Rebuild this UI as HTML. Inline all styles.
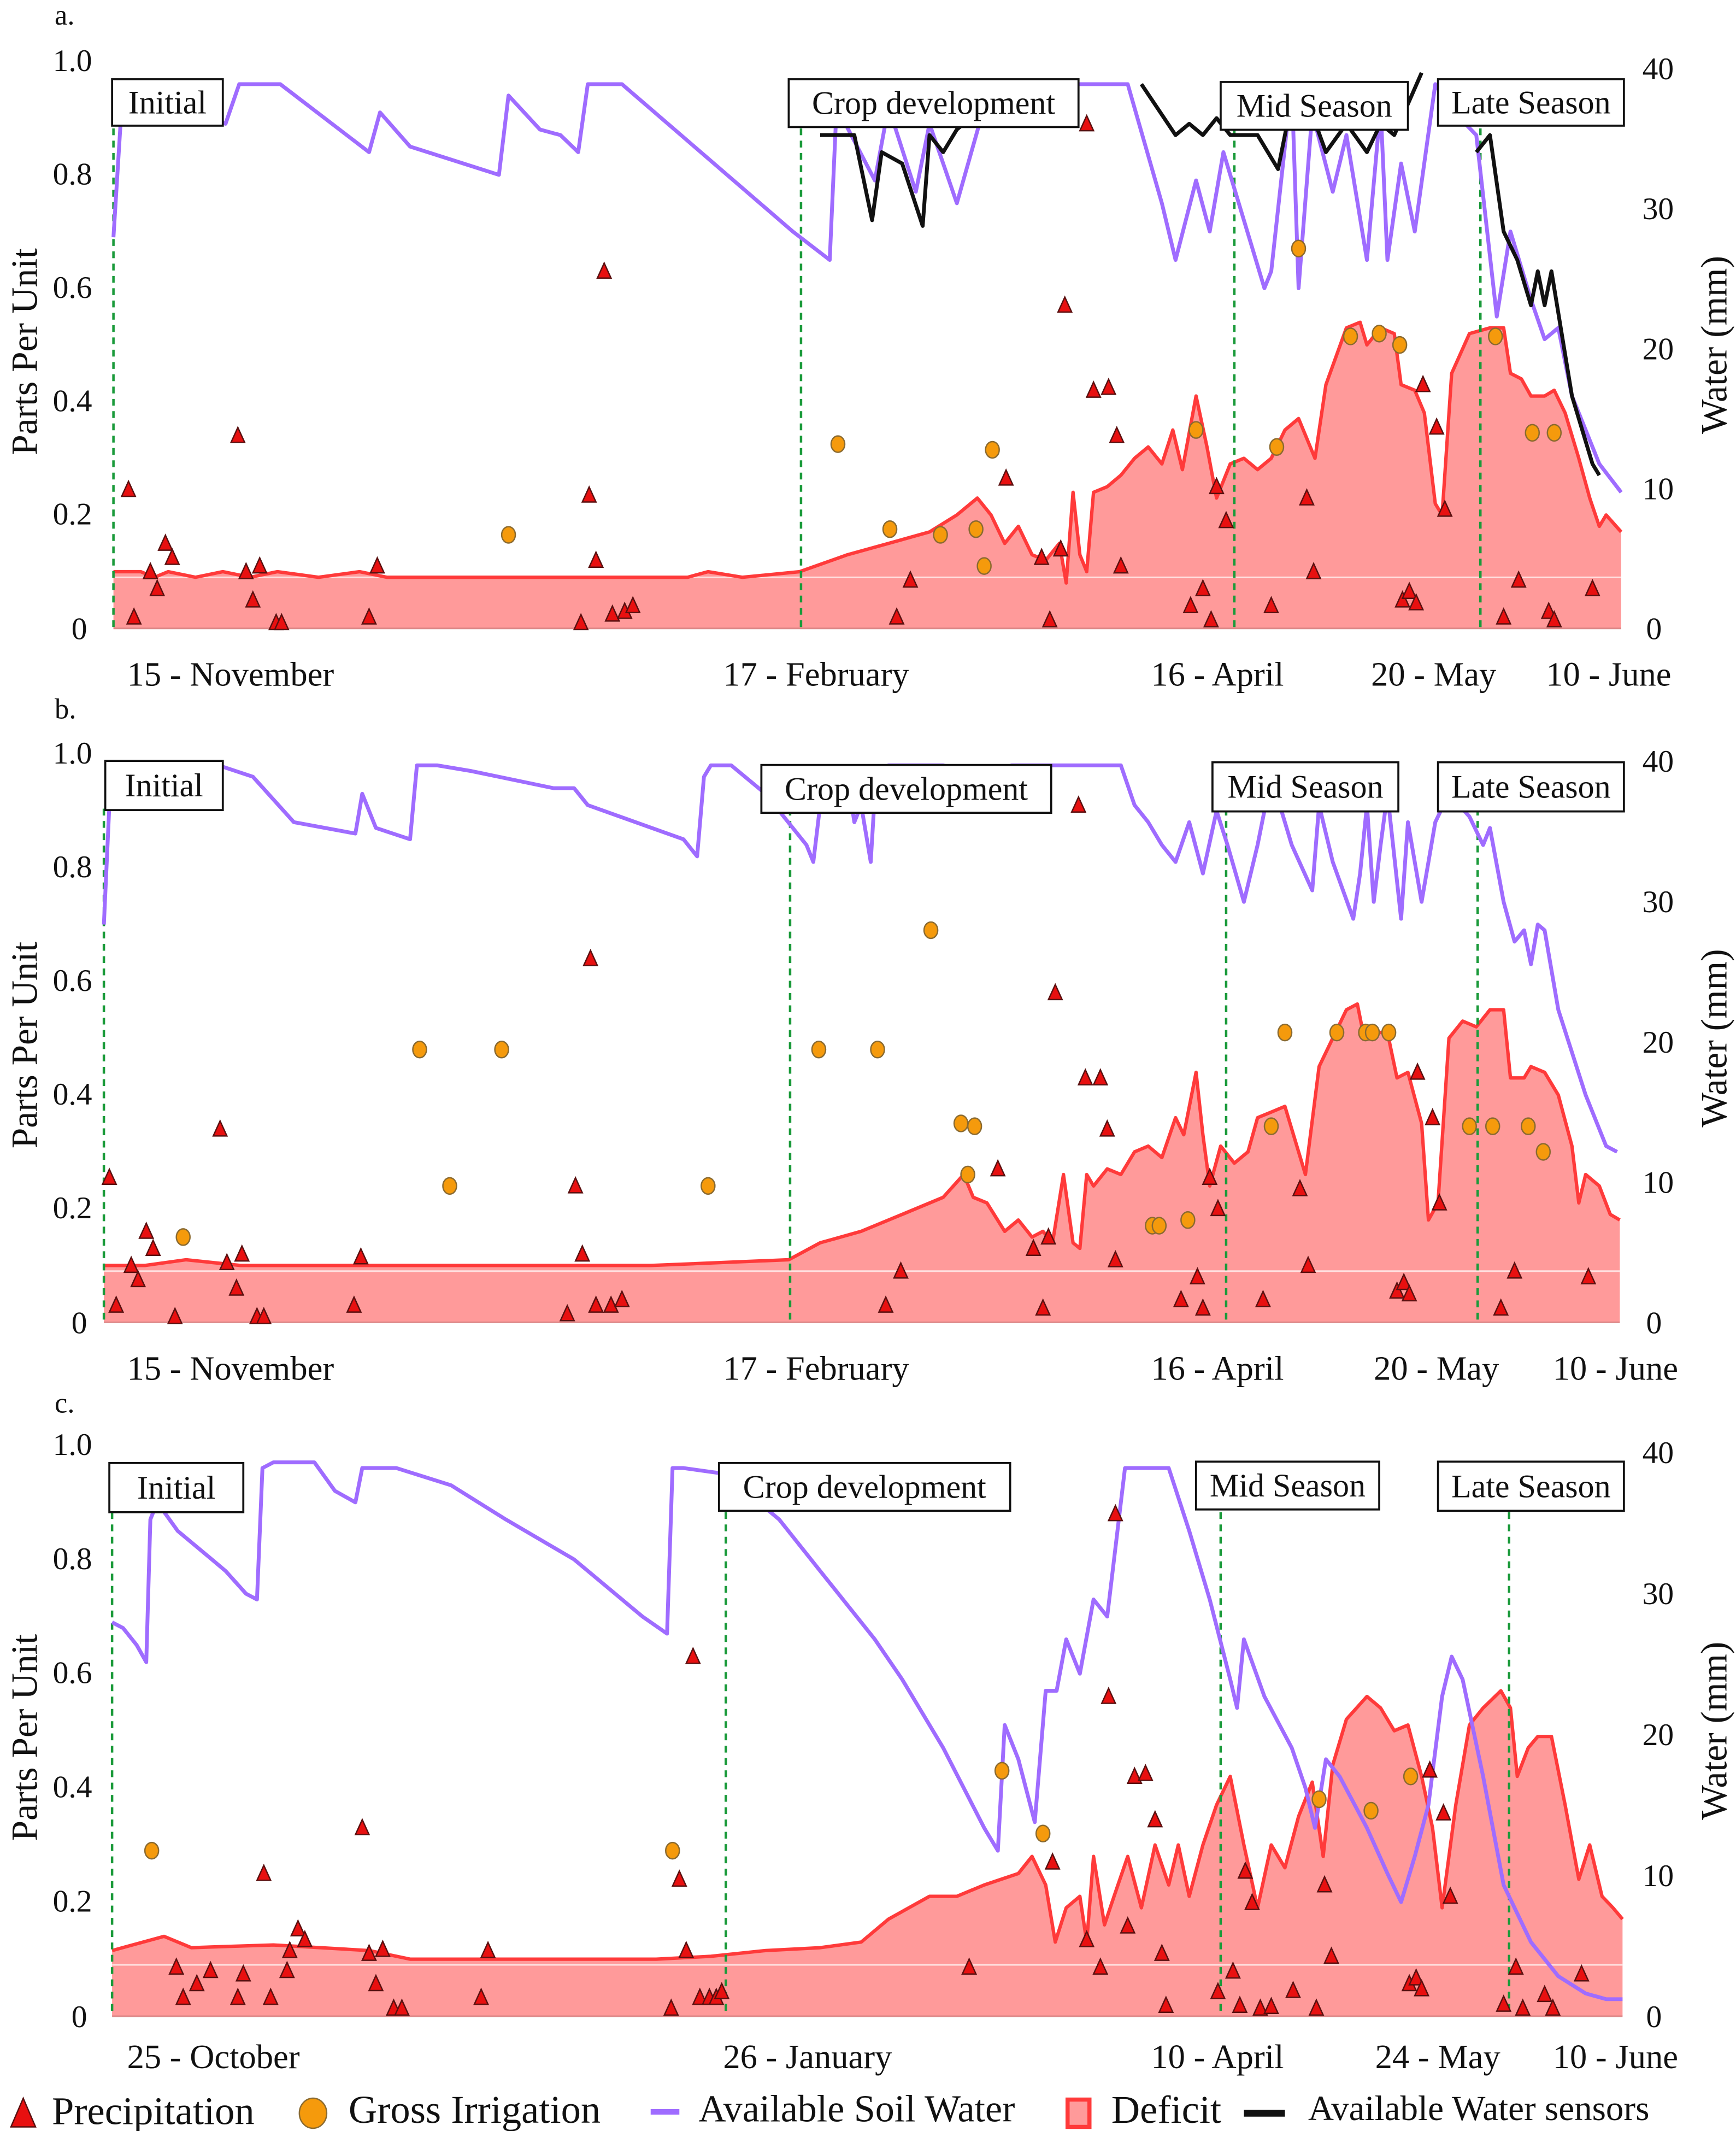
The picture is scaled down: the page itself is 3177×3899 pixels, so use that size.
<!DOCTYPE html>
<html><head><meta charset="utf-8">
<style>
html,body{margin:0;padding:0;background:#fff;}
svg{display:block;}
text{font-family:"Liberation Serif",serif;fill:#111;}
</style></head>
<body>
<svg id="chart" xmlns="http://www.w3.org/2000/svg" width="3177" height="3899" viewBox="0 0 1270 1560" preserveAspectRatio="none"></svg>
<script>
// ---------- Panel a data ----------
const aAswT=[0,7,82,92,122,187,195,217,282,289,312,327,340,347,372,497,524,529,557,567,587,597,617,637,652,742,767,777,792,802,812,842,847,862,867,877,892,902,917,927,932,942,952,967,977,997,1012,1022,1037,1047,1057,1067,1087,1103];
const aAswV=[.69,.96,.89,.96,.96,.84,.91,.85,.80,.94,.88,.87,.84,.96,.96,.70,.65,.92,.79,.92,.77,.89,.75,.92,.96,.96,.75,.65,.79,.70,.84,.60,.63,.96,.60,.91,.77,.87,.65,.92,.65,.82,.70,.96,.92,.87,.55,.70,.58,.51,.53,.41,.29,.24];
const aSenT=[517,542,555,562,577,592,597,607,617,627,637,640,752,777,787,797,807,817,837,852,862,872,887,902,917,927,937,957,960,997,1007,1017,1027,1037,1042,1047,1052,1067,1082,1087];
const aSenV=[.87,.87,.72,.84,.82,.71,.87,.84,.88,.90,.94,null,.96,.87,.89,.87,.90,.87,.87,.81,.93,.94,.84,.89,.84,.89,.87,.98,null,.84,.87,.70,.65,.57,.63,.57,.63,.41,.29,.27];
const aDefT=[0,20,30,40,60,80,100,120,150,180,200,260,280,350,420,435,460,502,537,567,597,617,632,642,652,662,672,682,692,697,702,707,712,717,727,737,747,757,767,775,782,792,800,807,817,827,837,847,857,867,879,887,902,912,917,927,937,942,952,959,967,972,979,992,1007,1017,1022,1030,1037,1047,1054,1062,1072,1080,1087,1092,1103];
const aDefV=[.10,.10,.09,.10,.09,.10,.09,.10,.09,.10,.09,.09,.09,.09,.09,.10,.09,.10,.13,.15,.17,.20,.23,.20,.15,.18,.13,.12,.15,.08,.24,.13,.10,.24,.25,.27,.30,.32,.29,.35,.28,.41,.32,.23,.29,.30,.28,.30,.35,.37,.30,.43,.53,.54,.50,.53,.52,.43,.42,.38,.22,.20,.45,.52,.53,.53,.45,.44,.41,.41,.42,.38,.30,.23,.18,.20,.17];
const aPrT=[11,15,27,32,38,43,91,97,102,107,119,123,187,193,342,348,353,359,365,374,380,573,583,653,679,685,693,696,712,717,728,734,737,788,797,803,807,814,847,873,878,943,948,953,958,968,974,1017,1028,1050,1054,1082];
const aPrV=[.245,.02,.10,.07,.15,.125,.34,.10,.05,.11,.01,.01,.02,.11,.01,.235,.12,.63,.025,.03,.04,.02,.085,.265,.125,.015,.14,.57,.89,.42,.425,.34,.11,.04,.07,.015,.25,.19,.04,.23,.10,.05,.065,.045,.43,.355,.21,.02,.085,.03,.015,.07];
const aIrT=[289,530,568,605,631,637,643,792,851,867,905,926,941,1011,1038,1054];
const aIrV=[.165,.325,.175,.165,.175,.11,.315,.35,.32,.67,.515,.52,.50,.515,.345,.345];
const aStages=[0,503,820,1000];
const aDates=["15 - November","17 - February","16 - April","20 - May","10 - June"];

// ---------- Panel b data ----------
const bAswT=[0,4,9,84,109,139,184,189,199,224,229,244,269,329,344,354,424,434,439,444,459,484,514,519,524,539,544,549,554,561,564,574,614,644,654,664,744,754,764,774,784,794,804,814,822,834,844,854,869,884,889,899,914,919,924,929,934,939,949,954,964,974,984,999,1009,1014,1024,1032,1039,1044,1049,1054,1064,1084,1099,1107];
const bAswV=[.70,.91,.98,.98,.96,.88,.86,.93,.87,.85,.98,.98,.97,.94,.94,.91,.85,.82,.96,.98,.98,.93,.84,.81,.91,.91,.96,.88,.91,.81,.93,.98,.98,.96,.94,.98,.98,.91,.88,.84,.81,.88,.79,.90,.84,.74,.84,.96,.84,.76,.91,.81,.71,.79,.91,.74,.84,.93,.71,.88,.74,.88,.93,.89,.84,.87,.74,.67,.69,.63,.70,.69,.55,.40,.31,.30];
const bDefT=[0,30,60,100,200,300,400,501,524,554,584,614,629,636,646,659,669,679,687,694,702,709,714,719,724,734,744,754,764,774,784,790,799,804,809,817,827,837,844,854,864,879,889,899,909,917,922,929,939,946,954,964,969,976,984,994,1004,1014,1024,1029,1039,1044,1054,1064,1074,1079,1084,1094,1102,1109];
const bDefV=[.10,.10,.11,.10,.10,.10,.10,.11,.14,.16,.19,.22,.26,.22,.21,.16,.18,.15,.16,.14,.26,.14,.13,.26,.24,.27,.26,.30,.31,.29,.36,.33,.44,.33,.24,.31,.28,.30,.36,.37,.38,.26,.45,.50,.55,.56,.50,.51,.51,.43,.44,.35,.18,.21,.50,.53,.52,.55,.55,.43,.43,.45,.44,.40,.31,.21,.26,.24,.19,.18];
const bPrT=[4,9,20,25,31,36,52,85,90,97,101,112,117,183,188,339,345,350,356,360,371,379,572,583,654,680,687,691,696,713,718,729,734,740,788,800,804,809,815,848,875,881,946,951,955,961,972,977,1022,1032,1086];
const bPrV=[.255,.03,.10,.075,.16,.13,.01,.34,.105,.06,.12,.01,.01,.03,.115,.015,.24,.12,.64,.03,.03,.04,.03,.09,.27,.13,.025,.15,.58,.91,.43,.43,.34,.11,.04,.08,.025,.255,.20,.04,.235,.10,.055,.07,.05,.44,.36,.21,.025,.09,.08];
const bIrT=[58,231,253,291,442,523,566,605,627,632,637,767,772,793,854,864,902,923,928,940,999,1016,1042,1053];
const bIrV=[.15,.48,.24,.48,.24,.48,.48,.69,.35,.26,.345,.17,.17,.18,.345,.51,.51,.51,.51,.51,.345,.345,.345,.30];
const bStages=[0,502,821,1005];
const bDates=["15 - November","17 - February","16 - April","20 - May","10 - June"];

// ---------- Panel c data ----------
const cAswT=[0,8,18,25,28,33,48,68,83,98,106,110,118,148,163,178,183,208,248,288,338,388,406,410,418,448,488,518,558,578,608,638,648,653,663,675,683,691,698,708,718,728,733,741,773,788,803,818,823,828,843,863,873,880,888,898,918,933,943,953,963,973,980,988,1003,1018,1038,1058,1078,1093,1105];
const cAswV=[.69,.68,.65,.62,.87,.90,.85,.81,.78,.74,.73,.96,.97,.97,.92,.90,.96,.96,.93,.87,.80,.70,.67,.96,.96,.95,.87,.78,.66,.59,.47,.33,.29,.51,.45,.34,.57,.57,.66,.60,.73,.70,.80,.96,.96,.85,.73,.59,.54,.66,.56,.47,.40,.33,.45,.42,.33,.25,.20,.28,.37,.56,.63,.59,.42,.23,.13,.07,.04,.03,.03];
const cDefT=[0,38,58,118,188,218,318,398,438,478,518,548,568,598,618,638,663,673,683,690,698,708,713,718,726,733,743,753,763,773,780,788,798,808,818,828,838,848,858,868,878,886,893,903,918,928,938,948,958,966,973,983,993,1003,1016,1023,1028,1036,1043,1053,1063,1073,1081,1090,1098,1105];
const cDefV=[.115,.14,.12,.125,.115,.10,.10,.10,.105,.115,.12,.13,.17,.21,.21,.23,.25,.28,.23,.13,.19,.21,.13,.28,.16,.21,.28,.19,.30,.23,.30,.21,.30,.37,.42,.30,.19,.30,.26,.35,.41,.28,.44,.52,.56,.54,.50,.51,.42,.33,.19,.37,.51,.54,.57,.54,.42,.47,.49,.49,.37,.24,.30,.21,.19,.17];
const cPrT=[47,52,62,72,92,96,111,116,128,130,136,141,183,188,193,198,206,212,270,275,409,415,420,425,430,437,442,446,627,688,713,723,729,734,743,748,756,763,768,771,809,820,825,829,834,840,848,864,881,887,892,949,954,958,964,974,979,1018,1027,1032,1048,1054,1075];
const cPrV=[.086,.033,.057,.08,.033,.074,.25,.033,.08,.115,.153,.134,.33,.11,.057,.117,.014,.014,.033,.115,.014,.24,.115,.63,.033,.033,.033,.043,.086,.27,.134,.086,.56,.88,.158,.42,.425,.344,.11,.019,.043,.079,.019,.254,.199,.014,.017,.045,.014,.23,.105,.057,.067,.048,.431,.356,.21,.021,.086,.014,.038,.014,.074];
const cIrT=[29,410,651,681,883,921,950];
const cIrV=[.29,.29,.43,.32,.38,.36,.42];
const cStages=[0,449,811,1022];
const cDates=["25 - October","26 - January","10 - April","24 - May","10 - June"];

const stageNames=["Initial","Crop development","Mid Season","Late Season"];
const leftTicks=[0,0.2,0.4,0.6,0.8,1.0];
const leftTickLabels=["0","0.2","0.4","0.6","0.8","1.0"];
const rightTicks=[0,10,20,30,40];

const NS="http://www.w3.org/2000/svg";
const svg=document.getElementById('chart');
function mk(tag,attrs,parent){const e=document.createElementNS(NS,tag);for(const k in attrs)e.setAttribute(k,attrs[k]);(parent||svg).appendChild(e);return e;}
function txt(s,x,y,size,parent,anchor){const t=mk('text',{x:x,y:y,'font-size':size,'text-anchor':anchor||'start'},parent);t.textContent=s;return t;}

const panels=[
 {id:'a',x0:83,x1:1186,y0:460,y1:45,tmax:1103,r0:460,r40:50,label:'a.',ly:12,
  asT:aAswT,asV:aAswV,seT:aSenT,seV:aSenV,dT:aDefT,dV:aDefV,pT:aPrT,pV:aPrV,iT:aIrT,iV:aIrV,st:aStages,dates:aDates,
  boxes:[[82,58,81,34],[577,58,212,35],[893,60,137,35],[1052,58,136,34]],dateX:[93,529,842,1003,1131],dateY:502},
 {id:'b',x0:76,x1:1185,y0:968,y1:552,tmax:1109,r0:968,r40:557,label:'b.',ly:520,
  asT:bAswT,asV:bAswV,seT:null,seV:null,dT:bDefT,dV:bDefV,pT:bPrT,pV:bPrV,iT:bIrT,iV:bIrV,st:bStages,dates:bDates,
  boxes:[[77,557,86,36],[557,560,212,35],[887,558,136,36],[1052,558,136,36]],dateX:[93,529,842,1005,1136],dateY:1010},
 {id:'c',x0:82,x1:1187,y0:1476,y1:1058,tmax:1105,r0:1476,r40:1063,label:'c.',ly:1028,
  asT:cAswT,asV:cAswV,seT:null,seV:null,dT:cDefT,dV:cDefV,pT:cPrT,pV:cPrV,iT:cIrT,iV:cIrV,st:cStages,dates:cDates,
  boxes:[[80,1071,98,36],[526,1071,213,35],[875,1070,134,35],[1052,1070,136,36]],dateX:[93,529,842,1006,1136],dateY:1514}
];

panels.forEach(P=>{
  const g=mk('g',{});
  
  
  const X=t=>P.x0+t/P.tmax*(P.x1-P.x0);
  const Y=v=>P.y0-v*(P.y0-P.y1);
  const YR=mm=>P.r0-mm/40*(P.r0-P.r40);
  const pl=txt(P.label,40,P.ly+6,21,g);
  
  
  leftTicks.forEach((v,i)=>{
    const t=txt(leftTickLabels[i],v===0?58:53,Y(v)+(v===0?8:7),23,g,'middle');
    
    
  });
  rightTicks.forEach(mm=>{
    const t=txt(String(mm),mm===0?1210:1213,YR(mm)+8,23,g,'middle');
    
    
  });
  const yc=(P.y0+P.y1)/2;
  const yl=txt('Parts Per Unit',0,0,27,g,'middle');
  yl.setAttribute('transform','translate(27,'+(yc+5)+') rotate(-90)');
  
  
  const yr=txt('Water (mm)',0,0,27,g,'middle');
  yr.setAttribute('transform','translate(1263,'+(yc)+') rotate(-90)');
  
  
  let d='M'+X(P.dT[0])+','+P.y0;
  P.dT.forEach((t,i)=>{d+=' L'+X(t).toFixed(1)+','+Y(P.dV[i]).toFixed(1);});
  d+=' L'+X(P.dT[P.dT.length-1])+','+P.y0+' Z';
  const area=mk('path',{d:d,fill:'#ff9a9a',stroke:'none'},g);
  
  
  const wl=mk('line',{x1:P.x0,x2:P.x1,y1:Y(0.09),y2:Y(0.09),stroke:'#ffe0e0','stroke-width':1.2},g);
  
  
  let dl='';
  P.dT.forEach((t,i)=>{dl+=(i?' L':'M')+X(t).toFixed(1)+','+Y(P.dV[i]).toFixed(1);});
  const defl=mk('path',{d:dl,fill:'none',stroke:'#ff3a3a','stroke-width':2.5,'stroke-linejoin':'round'},g);
  
  
  mk('line',{x1:P.x0,x2:P.x1,y1:P.y0,y2:P.y0,stroke:'#d88','stroke-width':1.2},g);
  P.st.forEach(t=>{
    const l=mk('line',{x1:X(t),x2:X(t),y1:P.y1+40,y2:P.y0,stroke:'#1a9a3a','stroke-width':1.8,'stroke-dasharray':'5,4'},g);
    
    
  });
  let ap='';
  P.asT.forEach((t,i)=>{ap+=(i?' L':'M')+X(t).toFixed(1)+','+Y(P.asV[i]).toFixed(1);});
  const asw=mk('path',{d:ap,fill:'none',stroke:'#9f6cff','stroke-width':2.8,'stroke-linejoin':'round'},g);
  
  
  if(P.seT){
    let sp='',pen=false;
    P.seT.forEach((t,i)=>{const v=P.seV[i];if(v===null){pen=false;return;}sp+=(pen?' L':' M')+X(t).toFixed(1)+','+Y(v).toFixed(1);pen=true;});
    const se=mk('path',{d:sp,fill:'none',stroke:'#111','stroke-width':2.8,'stroke-linejoin':'round'},g);
    
    
  }
  P.pT.forEach((t,i)=>{
    const x=X(t),y=Y(P.pV[i]);
    const tr=mk('polygon',{points:(x-5)+','+(y+5)+' '+(x+5)+','+(y+5)+' '+x+','+(y-6),fill:'#e81010',stroke:'#5a1010','stroke-width':1},g);
    
    
  });
  P.iT.forEach((t,i)=>{
    const c=mk('ellipse',{cx:X(t),cy:Y(P.iV[i]),rx:5,ry:6,fill:'#f59a0c',stroke:'#8a6a30','stroke-width':1},g);
    
    
  });
  P.boxes.forEach((b,i)=>{
    const r=mk('rect',{x:b[0],y:b[1],width:b[2],height:b[3],fill:'#fff',stroke:'#111','stroke-width':1.5},g);
    
    
    const t=txt(stageNames[i],b[0]+b[2]/2,b[1]+b[3]/2+8,24,g,'middle');
    
    
  });
  P.dates.forEach((s,i)=>{
    const t=txt(s,P.dateX[i],P.dateY,25,g);
    
    
  });
});

const lg=mk('g',{});


mk('polygon',{points:'8,1557 26,1557 17,1536',fill:'#e81010',stroke:'#5a1010','stroke-width':1},lg);
txt('Precipitation',38,1555,29,lg);
mk('ellipse',{cx:229,cy:1547,rx:10,ry:11,fill:'#f59a0c',stroke:'#8a6a30','stroke-width':1},lg);
txt('Gross Irrigation',255,1554,29,lg);
mk('line',{x1:476,x2:497,y1:1546,y2:1546,stroke:'#9f6cff','stroke-width':4},lg);
txt('Available Soil Water',511,1553,28,lg);
mk('rect',{x:781,y:1537,width:16,height:20,fill:'#ff9a9a',stroke:'#ff3a3a','stroke-width':3},lg);
txt('Deficit',813,1554,29,lg);
mk('line',{x1:910,x2:940,y1:1547,y2:1547,stroke:'#111','stroke-width':5},lg);
txt('Available Water sensors',957,1552,26,lg);
</script>
</body></html>
